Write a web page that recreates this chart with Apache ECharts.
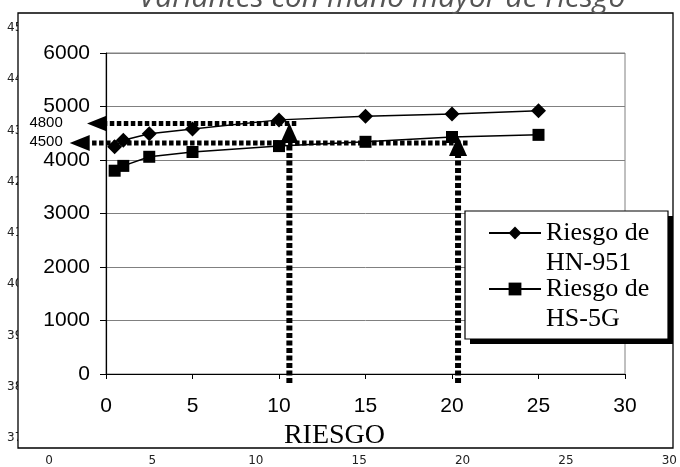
<!DOCTYPE html>
<html>
<head>
<meta charset="utf-8">
<script src="https://cdn.jsdelivr.net/npm/echarts@6/dist/echarts.min.js"></script>
<style>
  html, body { margin: 0; padding: 0; background: #fff; }
  #chart { width: 680px; height: 467px; }
</style>
</head>
<body>
<div id="chart"></div>
<script>
// risk levels (x) and the two series
const riskX = [0.5, 1, 2.5, 5, 10, 15, 20, 25];
const hn951 = [4250, 4370, 4490, 4580, 4750, 4820, 4860, 4920];
const hs5g = [3800, 3890, 4060, 4150, 4260, 4340, 4430, 4470];
const seriesNames = ['Riesgo de HN-951', 'Riesgo de HS-5G'];

// dotted guide arrows: [fromX, fromY, tipX, tipY]
const guideH = [[11.0, 4680, -1.1, 4680], [20.9, 4320, -2.1, 4320]];
const guideV = [[10.6, -170, 10.6, 4690], [20.35, -170, 20.35, 4450]];
const guideLabels = ['4800', '4500'];
const guideLabelX = -2.5;

// second (overlaid) axis left behind the frame
const outerYMin = 3700, outerYMax = 4500, outerYStep = 100;
const outerXMax = 30;

const titleText = 'Variantes con mano mayor de riesgo';

const chart = echarts.init(document.getElementById('chart'));

function renderGuide(params, api) {
  const p1 = api.coord([api.value(0), api.value(1)]);
  const p2 = api.coord([api.value(2), api.value(3)]);
  const dx = p2[0] - p1[0], dy = p2[1] - p1[1];
  const len = Math.hypot(dx, dy);
  const ux = dx / len, uy = dy / len;
  const horiz = Math.abs(dx) > Math.abs(dy);
  const headL = 20, headW = horiz ? 16 : 18, lw = horiz ? 5 : 6;
  const base = [p2[0] - ux * headL, p2[1] - uy * headL];
  const nx = -uy * headW / 2, ny = ux * headW / 2;
  const children = [
    {
      type: 'line',
      shape: { x1: p1[0], y1: p1[1], x2: base[0], y2: base[1] },
      style: { stroke: '#000', lineWidth: lw, lineDash: horiz ? [4.5, 2.5] : [5, 2.5] }
    },
    {
      type: 'polygon',
      shape: { points: [p2, [base[0] + nx, base[1] + ny], [base[0] - nx, base[1] - ny]] },
      style: { fill: '#000' }
    }
  ];
  if (horiz) {
    const lp = api.coord([guideLabelX, api.value(1)]);
    children.push({
      type: 'text',
      style: {
        text: guideLabels[params.dataIndex], x: lp[0], y: lp[1] - 1,
        align: 'right', verticalAlign: 'middle',
        font: '15px "Liberation Sans", Arial', fill: '#000'
      }
    });
  }
  return { type: 'group', children: children };
}

// legend text: blank first line so the icon sits on "Riesgo de"
const legendName = n => ' \n' + n.replace(/ (\S+)$/, '\n$1');
const legendText = { fontFamily: '"Liberation Serif", "Times New Roman"', fontSize: 26, color: '#000', lineHeight: 30 };
const plain = v => String(v);

const option = {
  animation: false,
  grid: [
    { left: 106, right: 55, top: 53, bottom: 93, show: true, borderColor: '#808080', borderWidth: 1, z: 2 },
    { left: 49, right: 680 - 673, top: 28, bottom: 28, z: 0 }
  ],
  xAxis: [
    {
      type: 'value', gridIndex: 0, min: 0, max: 30, interval: 5, z: 2,
      name: 'RIESGO', nameLocation: 'middle', nameGap: 40,
      nameTextStyle: { fontFamily: '"Liberation Serif", "Times New Roman"', fontSize: 28, color: '#000', padding: [0, 62, 0, 0] },
      axisLine: { lineStyle: { color: '#000', width: 1.2 } },
      axisTick: { length: 5, lineStyle: { color: '#000' } },
      axisLabel: { fontSize: 21, fontFamily: '"Liberation Sans", Arial', color: '#000', margin: 22 },
      splitLine: { show: false }
    },
    {
      type: 'value', gridIndex: 1, min: 0, max: outerXMax, interval: 5, z: 0,
      axisLine: { show: false }, axisTick: { show: false }, splitLine: { show: false },
      axisLabel: { fontSize: 12, fontFamily: '"DejaVu Sans"', color: '#222', margin: 17 }
    }
  ],
  yAxis: [
    {
      type: 'value', gridIndex: 0, min: 0, max: 6000, interval: 1000, z: 2,
      axisLine: { show: true, lineStyle: { color: '#000', width: 1.2 } },
      axisTick: { show: true, length: 6, lineStyle: { color: '#000' } },
      axisLabel: { fontSize: 21, fontFamily: '"Liberation Sans", Arial', color: '#000', margin: 16, formatter: plain },
      splitLine: { lineStyle: { color: '#808080', width: 1 } }
    },
    {
      type: 'value', gridIndex: 1, min: outerYMin, max: outerYMax, interval: outerYStep, z: 0,
      axisLine: { show: false }, axisTick: { show: false }, splitLine: { show: false },
      axisLabel: { fontSize: 12, fontFamily: '"DejaVu Sans"', color: '#222', align: 'left', margin: 42, formatter: plain }
    }
  ],
  legend: [
    {
      data: [seriesNames[0]], left: 488, top: 188, padding: 0, z: 8,
      itemWidth: 52, itemHeight: 16, formatter: legendName, textStyle: legendText,
      lineStyle: { width: 2 }
    },
    {
      data: [seriesNames[1]], left: 488, top: 244, padding: 0, z: 8,
      itemWidth: 52, itemHeight: 16, formatter: legendName, textStyle: legendText,
      lineStyle: { width: 2 }
    }
  ],
  graphic: [
    { type: 'rect', z: 1, shape: { x: 18, y: 13, width: 655, height: 435 }, style: { fill: '#fff', stroke: '#000', lineWidth: 1.3 } },
    { type: 'rect', z: 6, shape: { x: 470, y: 216, width: 203, height: 128 }, style: { fill: '#000' } },
    { type: 'rect', z: 7, shape: { x: 465, y: 211, width: 203, height: 128 }, style: { fill: '#fff', stroke: '#000', lineWidth: 1.2 } },
    { type: 'text', z: 9, style: { text: titleText, x: 382, y: -2, align: 'center', verticalAlign: 'middle', font: 'italic 30px "Open Sans"', fill: '#555' } }
  ],
  series: [
    {
      name: seriesNames[0], type: 'line', xAxisIndex: 0, yAxisIndex: 0, z: 3,
      data: riskX.map((x, i) => [x, hn951[i]]),
      symbol: 'diamond', symbolSize: 15,
      lineStyle: { color: '#000', width: 1.5 }, itemStyle: { color: '#000' }
    },
    {
      name: seriesNames[1], type: 'line', xAxisIndex: 0, yAxisIndex: 0, z: 3,
      data: riskX.map((x, i) => [x, hs5g[i]]),
      symbol: 'rect', symbolSize: 12,
      lineStyle: { color: '#000', width: 1.5 }, itemStyle: { color: '#000' }
    },
    {
      type: 'custom', xAxisIndex: 0, yAxisIndex: 0, z: 4, clip: false,
      renderItem: renderGuide,
      data: guideH.concat(guideV)
    }
  ]
};

chart.setOption(option);
</script>
</body>
</html>
